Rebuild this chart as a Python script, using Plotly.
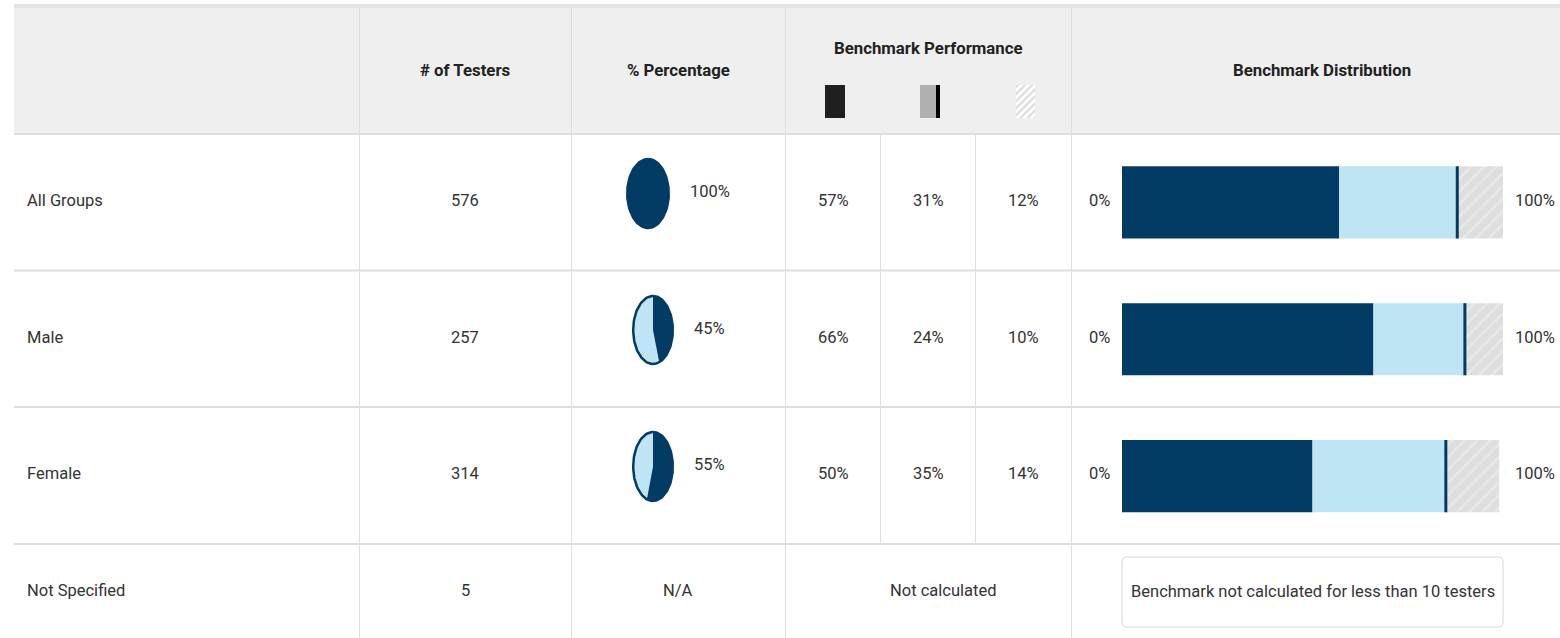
import plotly.graph_objects as go
import math

# ---------------- data ----------------
groups = ["All Groups", "Male", "Female", "Not Specified"]
testers = [576, 257, 314, 5]
share_pct = [100, 45, 55, None]
perf_top = [57, 66, 50]
perf_mid = [31, 24, 35]
perf_low = [12, 10, 14]
col_headers = ["# of Testers", "% Percentage", "Benchmark Performance", "Benchmark Distribution"]
na_texts = ["N/A", "Not calculated", "Benchmark not calculated for less than 10 testers"]
axis_end_labels = ["0%", "100%"]

# ---------------- style ----------------
W, H = 1560, 638
NAVY = "#023b63"
LIGHT = "#bfe4f4"
GRID = "#dedede"
HEAD_BG = "#efefef"
TXT = "#333333"
FONT = "Roboto"
FS = 16.5
FSB = 16.8

fig = go.Figure()

def py(p):
    return 1 - p / H

def px(p):
    return p / W

layout = dict(
    width=W, height=H, margin=dict(l=0, r=0, t=0, b=0),
    paper_bgcolor="white", plot_bgcolor="white", showlegend=False,
    barmode="overlay",
    xaxis=dict(range=[0, W], domain=[0, 1], visible=False, fixedrange=True),
    yaxis=dict(range=[H, 0], domain=[0, 1], visible=False, fixedrange=True),
    font=dict(family=FONT, color=TXT, size=FS),
)

shapes = []
shapes.append(dict(type="rect", xref="x", yref="y", x0=14, x1=W, y0=4, y1=8,
                   fillcolor="#e4e4e4", line=dict(width=0), layer="below"))
shapes.append(dict(type="rect", xref="x", yref="y", x0=14, x1=W, y0=8, y1=134,
                   fillcolor=HEAD_BG, line=dict(width=0), layer="below"))
for yy in [134, 270.5, 407, 544]:
    shapes.append(dict(type="line", xref="x", yref="y", x0=14, x1=W, y0=yy, y1=yy,
                       line=dict(color=GRID, width=2)))
for xx in [359.5, 571.5, 785.5, 1071.5]:
    shapes.append(dict(type="line", xref="x", yref="y", x0=xx, x1=xx, y0=8, y1=H,
                       line=dict(color=GRID, width=1)))
for xx in [880.5, 975.5]:
    shapes.append(dict(type="line", xref="x", yref="y", x0=xx, x1=xx, y0=134, y1=544,
                       line=dict(color=GRID, width=1)))
shapes.append(dict(type="rect", xref="x", yref="y", x0=825, x1=845, y0=85, y1=118,
                   fillcolor="#1f1f1f", line=dict(width=0)))
shapes.append(dict(type="rect", xref="x", yref="y", x0=920, x1=936, y0=85, y1=118,
                   fillcolor="#b0b0b0", line=dict(width=0)))
shapes.append(dict(type="rect", xref="x", yref="y", x0=936, x1=940, y0=85, y1=118,
                   fillcolor="#000000", line=dict(width=0)))
x0, x1, y0, y1, r = 1122, 1503, 557, 627, 5
path = (f"M {x0+r},{y0} L {x1-r},{y0} Q {x1},{y0} {x1},{y0+r} L {x1},{y1-r} "
        f"Q {x1},{y1} {x1-r},{y1} L {x0+r},{y1} Q {x0},{y1} {x0},{y1-r} "
        f"L {x0},{y0+r} Q {x0},{y0} {x0+r},{y0} Z")
shapes.append(dict(type="path", xref="x", yref="y", path=path,
                   line=dict(color="#d6d6d6", width=1), fillcolor="white"))

fig.add_trace(go.Bar(x=[1025.5], y=[33], base=[85], width=[19], xaxis="x", yaxis="y",
                     marker=dict(color="#ffffff", line=dict(width=0),
                                 pattern=dict(shape="/", fgcolor="#b8b8b8", size=5, solidity=0.45)),
                     hoverinfo="skip"))

annotations = []
def txt(x, y, s, anchor="center", size=FS, color=TXT, bold=False):
    annotations.append(dict(xref="x", yref="y", x=x, y=y, text=(f"<b>{s}</b>" if bold else s),
                            showarrow=False, xanchor=anchor, yanchor="middle",
                            font=dict(family=FONT, size=size, color=color)))

txt(465, 70, col_headers[0], bold=True, color="#222", size=FSB)
txt(678, 70, col_headers[1], bold=True, color="#222", size=FSB)
txt(928, 48, col_headers[2], bold=True, color="#222", size=FSB)
txt(1322, 70, col_headers[3], bold=True, color="#222", size=FSB)

row_y = [200.5, 337, 473.5, 590]
for i, g in enumerate(groups):
    txt(25, row_y[i], g, anchor="left")
    txt(465, row_y[i], str(testers[i]))

perf_cols = [833, 928, 1023]
for i in range(3):
    for cx, vals in zip(perf_cols, [perf_top, perf_mid, perf_low]):
        txt(cx, row_y[i], f"{vals[i]}%")
    txt(1112, row_y[i], axis_end_labels[0], anchor="right")
    txt(1513, row_y[i], axis_end_labels[1], anchor="left")

txt(678, row_y[3], na_texts[0])
txt(943, row_y[3], na_texts[1])
txt(1312.5, 591, na_texts[2])

# ---------------- distribution bars ----------------
layout["xaxis2"] = dict(domain=[px(1122), px(1503)], range=[0, 100], visible=False, fixedrange=True, anchor="y2")
layout["yaxis2"] = dict(domain=[py(544.5), py(134)], range=[2.5, -0.5], visible=False, fixedrange=True, anchor="x2")

rows = list(range(3))
base_mid = [a for a in perf_top]
base_low = [a + b for a, b in zip(perf_top, perf_mid)]
bw = 0.527
fig.add_trace(go.Bar(y=rows, x=perf_top, base=[0, 0, 0], orientation="h", width=bw,
                     xaxis="x2", yaxis="y2", marker=dict(color=NAVY, line=dict(width=0)), hoverinfo="skip"))
fig.add_trace(go.Bar(y=rows, x=perf_mid, base=base_mid, orientation="h", width=bw,
                     xaxis="x2", yaxis="y2", marker=dict(color=LIGHT, line=dict(width=0)), hoverinfo="skip"))
fig.add_trace(go.Bar(y=rows, x=perf_low, base=base_low, orientation="h", width=bw,
                     xaxis="x2", yaxis="y2",
                     marker=dict(color="#dedede", line=dict(width=0),
                                 pattern=dict(shape="/", fgcolor="#f4f4f4", size=9, solidity=0.25)),
                     hoverinfo="skip"))
for i in rows:
    fig.add_trace(go.Scatter(x=[base_low[i], base_low[i]], y=[i - bw / 2, i + bw / 2], mode="lines",
                             xaxis="x2", yaxis="y2", line=dict(color=NAVY, width=3), hoverinfo="skip"))

# ---------------- pies (ellipses) ----------------
pie_boxes = [(626, 670, 157, 230), (632, 674, 294, 366), (632, 674, 430, 503)]
N = 120
for i in range(3):
    bx0, bx1, by0, by1 = pie_boxes[i]
    xa, ya = f"xaxis{3+i}", f"yaxis{3+i}"
    xr, yr = f"x{3+i}", f"y{3+i}"
    layout[xa] = dict(domain=[px(bx0), px(bx1)], range=[-1.06, 1.06], visible=False, fixedrange=True, anchor=yr)
    layout[ya] = dict(domain=[py(by1), py(by0)], range=[-1.06, 1.06], visible=False, fixedrange=True, anchor=xr)
    p = share_pct[i] / 100.0
    if p < 1:
        ang = [2 * math.pi * (p + (1 - p) * k / N) for k in range(N + 1)]
        xs = [0] + [math.sin(a) for a in ang] + [0]
        ys = [0] + [math.cos(a) for a in ang] + [0]
        fig.add_trace(go.Scatter(x=xs, y=ys, fill="toself", fillcolor=LIGHT, mode="lines",
                                 line=dict(width=0, color=LIGHT), xaxis=xr, yaxis=yr, hoverinfo="skip"))
    ang = [2 * math.pi * p * k / N for k in range(N + 1)]
    xs = [0] + [math.sin(a) for a in ang] + [0]
    ys = [0] + [math.cos(a) for a in ang] + [0]
    fig.add_trace(go.Scatter(x=xs, y=ys, fill="toself", fillcolor=NAVY, mode="lines",
                             line=dict(width=0, color=NAVY), xaxis=xr, yaxis=yr, hoverinfo="skip"))
    ang = [2 * math.pi * k / N for k in range(N + 1)]
    fig.add_trace(go.Scatter(x=[math.sin(a) for a in ang], y=[math.cos(a) for a in ang], mode="lines",
                             line=dict(width=2.5, color=NAVY), xaxis=xr, yaxis=yr, hoverinfo="skip"))
    txt(bx1 + 18, (by0 + by1) / 2 - 2, f"{share_pct[i]}%", anchor="left")

layout["shapes"] = shapes
layout["annotations"] = annotations
fig.update_layout(**layout)
fig.write_html("out.html", config={"displayModeBar": False},
               post_script="document.body.style.margin='0';document.body.style.overflow='hidden';")
